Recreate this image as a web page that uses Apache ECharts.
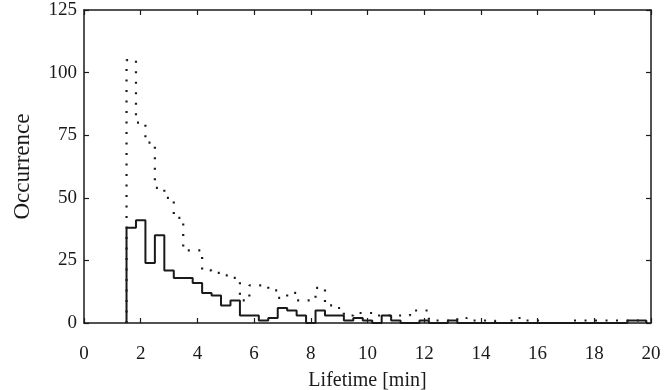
<!DOCTYPE html>
<html>
<head>
<meta charset="utf-8">
<script src="https://cdn.jsdelivr.net/npm/echarts@6/dist/echarts.min.js"></script>
<style>html,body{margin:0;padding:0;background:#fff}#c{width:664px;height:390px}</style>
</head>
<body>
<div id="c"></div>
<script>
// Histogram bins: first bin starts at 1.5 min, each bin is 20 s wide
const binStart = 1.5;
const binWidth = 1 / 3;
const xTicks = [0, 2, 4, 6, 8, 10, 12, 14, 16, 18, 20];
const yTicks = [0, 25, 50, 75, 100, 125];
// solid histogram
const solidCounts = [38, 41, 24, 35, 21, 18, 18, 16, 12, 11, 7, 9, 3, 3, 1, 2, 6, 5, 3, 0,
  5, 3, 3, 1, 2, 1, 0, 3, 1, 0, 0, 1, 0, 0, 1, 0, 0, 0, 0, 0,
  0, 0, 0, 0, 0, 0, 0, 0, 0, 0, 0, 0, 0, 1, 1];
// dotted histogram
const dottedCounts = [105, 80, 72, 54, 50, 42, 29, 29, 21, 20, 19, 18, 9, 15, 15, 13, 10, 12, 9, 9,
  14, 7, 6, 3, 4, 4, 3, 3, 3, 3, 5, 5, 1, 1, 1, 2, 1, 1, 1, 0,
  1, 2, 1, 1, 0, 0, 0, 1, 1, 1, 1, 1, 1, 1, 1];

function stepData(counts) {
  const pts = [[binStart, 0]];
  counts.forEach((v, i) => pts.push([binStart + i * binWidth, v]));
  const end = binStart + counts.length * binWidth;
  pts.push([end, counts[counts.length - 1]]);
  pts.push([end, 0]);
  return pts;
}

const font = '"Liberation Serif", "Times New Roman", serif';
const ink = '#1a1a1a';
const chart = echarts.init(document.getElementById('c'));
const baseX = {
  type: 'value', min: 0, max: 20, interval: 2,
  axisLine: { show: true, onZero: false, lineStyle: { color: ink, width: 1.5 } },
  axisTick: { show: true, inside: true, length: 5, lineStyle: { color: ink, width: 1.2 } },
  splitLine: { show: false }
};
const baseY = {
  type: 'value', min: 0, max: 125, interval: 25,
  axisLine: { show: true, onZero: false, lineStyle: { color: ink, width: 1.5 } },
  axisTick: { show: true, inside: true, length: 5, lineStyle: { color: ink, width: 1.2 } },
  splitLine: { show: false }
};
chart.setOption({
  animation: false,
  backgroundColor: '#fff',
  grid: { left: 84, right: 13, top: 10, bottom: 67, containLabel: false, outerBoundsMode: 'none' },
  xAxis: [
    Object.assign({}, baseX, {
      position: 'bottom',
      name: 'Lifetime [min]', nameLocation: 'middle', nameGap: 48,
      nameTextStyle: { fontFamily: font, fontSize: 20, color: ink },
      axisLabel: { margin: 22, fontFamily: font, fontSize: 19, color: ink,
        formatter: v => xTicks.includes(v) ? String(v) : '' }
    }),
    Object.assign({}, baseX, { position: 'top', axisLabel: { show: false } })
  ],
  yAxis: [
    Object.assign({}, baseY, {
      position: 'left',
      name: 'Occurrence', nameLocation: 'middle', nameGap: 50, nameRotate: 90,
      nameTextStyle: { fontFamily: font, fontSize: 23, color: ink },
      axisLabel: { margin: 7, fontFamily: font, fontSize: 19, color: ink,
        formatter: v => yTicks.includes(v) ? String(v) : '' }
    }),
    Object.assign({}, baseY, { position: 'right', axisLabel: { show: false } })
  ],
  series: [
    {
      type: 'line', step: 'end', xAxisIndex: 0, yAxisIndex: 0,
      data: stepData(dottedCounts), showSymbol: false, z: 3,
      lineStyle: { color: ink, width: 2.2, type: [2, 8.5], cap: 'butt' }
    },
    {
      type: 'line', step: 'end', xAxisIndex: 0, yAxisIndex: 0,
      data: stepData(solidCounts), showSymbol: false, z: 4,
      lineStyle: { color: ink, width: 2 }
    }
  ]
});
</script>
</body>
</html>
